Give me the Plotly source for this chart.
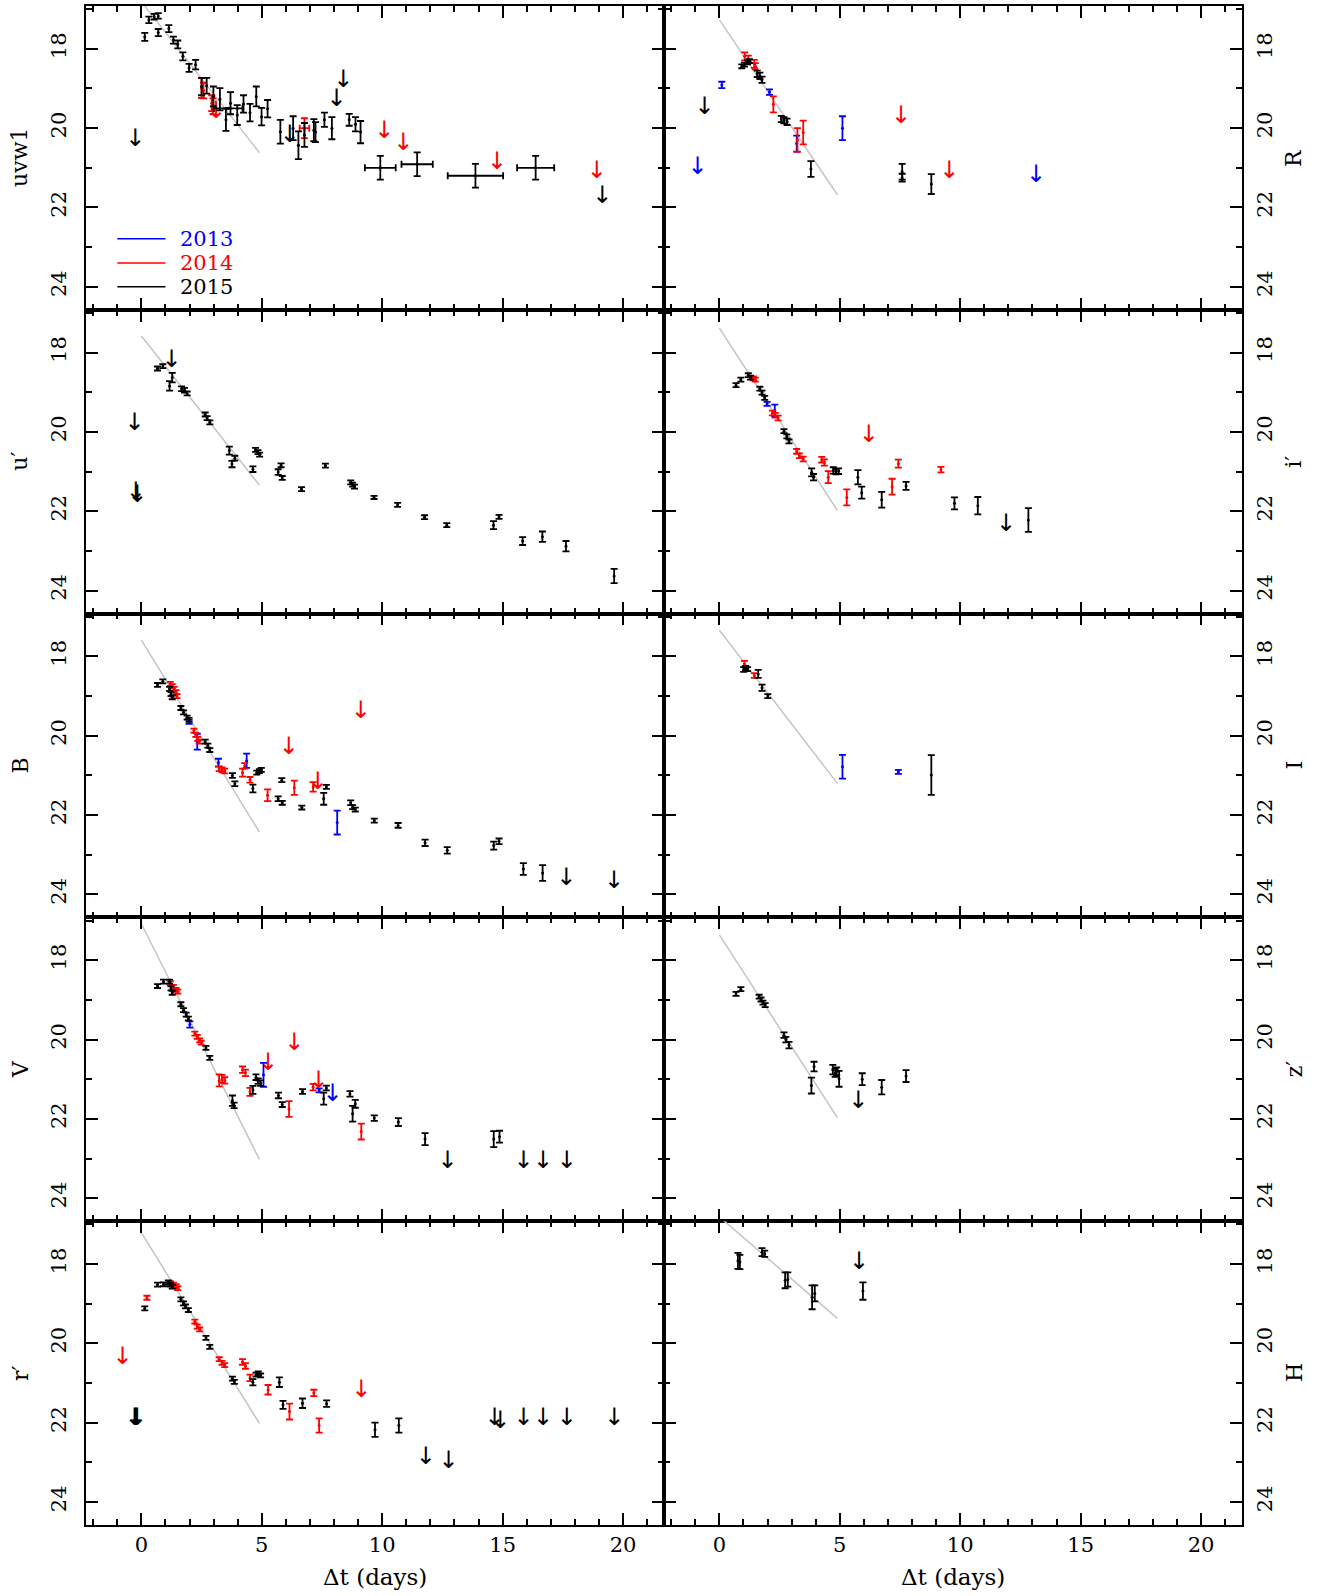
import plotly.graph_objects as go
from plotly.subplots import make_subplots

W, H = 1321, 1596
ML, MR, MT, MB = 86, 79, 6, 71

X_RANGE = [-2.3, 21.7]
Y_RANGE = [24.58, 16.92]
BANDS = [(4.9, 6.3), (17.9, 19.3)]
BAND_LINES = [5.6, 18.6]

YEARS = ["2013", "2014", "2015"]
YEAR_COLORS = {"2013": "#0000ff", "2014": "#ff0000", "2015": "#000000"}

# ---------------- data: (dt, mag, err[, xerr]) ; upper limits: (dt, mag)
uvw1_2015 = [(0.14, 17.70, 0.10), (0.31, 17.27, 0.08), (0.53, 17.19, 0.07), (0.70, 17.17, 0.07),
             (0.70, 17.59, 0.09), (1.14, 17.49, 0.09), (1.33, 17.78, 0.09), (1.51, 17.89, 0.10),
             (1.72, 18.19, 0.10), (1.98, 18.48, 0.10), (2.25, 18.40, 0.12), (2.50, 18.95, 0.22),
             (2.71, 18.93, 0.20), (2.99, 19.20, 0.25), (3.26, 19.27, 0.28), (3.51, 19.79, 0.28),
             (3.70, 19.37, 0.28), (3.98, 19.67, 0.25), (4.24, 19.39, 0.22), (4.51, 19.61, 0.22),
             (4.77, 19.20, 0.25), (4.99, 19.71, 0.22), (5.24, 19.51, 0.22), (5.77, 20.09, 0.30),
             (6.30, 20.00, 0.30), (6.52, 20.43, 0.35), (6.77, 20.17, 0.30), (7.16, 20.05, 0.28),
             (7.23, 20.10, 0.25), (7.60, 19.79, 0.18), (7.91, 20.00, 0.28), (8.63, 19.79, 0.15),
             (8.89, 19.90, 0.18), (9.10, 20.10, 0.28),
             (3.60, 19.50, 0.01, 0.60), (9.92, 21.00, 0.30, 0.64), (11.45, 20.91, 0.30, 0.65),
             (13.87, 21.20, 0.30, 1.15), (16.37, 21.00, 0.30, 0.77)]
uvw1_2015_ul = [(-0.25, 20.30), (6.16, 20.20), (8.10, 19.28), (8.38, 18.80), (19.14, 21.74)]
uvw1_2014 = [(2.50, 18.99, 0.25), (2.58, 19.05, 0.20), (2.92, 19.37, 0.20), (2.97, 19.45, 0.20),
             (6.77, 20.00, 0.25, 0.20)]
uvw1_2014_ul = [(3.10, 19.60), (10.09, 20.09), (10.87, 20.40), (14.77, 20.89), (18.91, 21.10)]

R_2013 = [(0.10, 18.91, 0.08), (2.08, 19.09, 0.07), (3.21, 20.39, 0.20), (5.11, 20.00, 0.30)]
R_2013_ul = [(-0.91, 21.00), (13.15, 21.20)]
R_2014 = [(1.05, 18.19, 0.10), (1.20, 18.25, 0.08), (1.45, 18.38, 0.10), (1.49, 18.44, 0.08),
          (2.24, 19.40, 0.20), (3.24, 20.30, 0.30), (3.48, 20.11, 0.30)]
R_2014_ul = [(7.54, 19.71), (9.55, 21.11)]
R_2015 = [(0.93, 18.44, 0.05), (1.04, 18.40, 0.05), (1.17, 18.34, 0.05), (1.25, 18.31, 0.05),
          (1.57, 18.63, 0.08), (1.68, 18.68, 0.08), (1.77, 18.78, 0.08), (2.57, 19.77, 0.08),
          (2.68, 19.80, 0.08), (2.81, 19.84, 0.08), (3.80, 21.03, 0.20), (7.59, 21.10, 0.20),
          (7.59, 21.25, 0.10), (8.80, 21.41, 0.25)]
R_2015_ul = [(-0.62, 19.50)]

u_2015 = [(0.67, 18.40, 0.05), (0.89, 18.34, 0.05), (1.17, 18.84, 0.12), (1.28, 18.63, 0.12),
          (1.67, 18.91, 0.06), (1.79, 18.95, 0.06), (1.90, 19.03, 0.05), (2.65, 19.56, 0.05),
          (2.73, 19.65, 0.05), (2.84, 19.76, 0.05), (3.65, 20.47, 0.10), (3.88, 20.66, 0.06),
          (3.76, 20.81, 0.08), (4.63, 20.94, 0.07), (4.74, 20.45, 0.05), (4.84, 20.51, 0.05),
          (4.91, 20.57, 0.05), (5.68, 21.01, 0.07), (5.80, 20.84, 0.05), (5.85, 21.16, 0.05),
          (6.65, 21.44, 0.05), (7.64, 20.85, 0.05), (8.69, 21.27, 0.05), (8.77, 21.33, 0.05),
          (8.85, 21.38, 0.05), (9.66, 21.65, 0.04), (10.64, 21.84, 0.05), (11.76, 22.15, 0.05),
          (12.68, 22.35, 0.05), (14.62, 22.35, 0.10), (14.85, 22.14, 0.05), (15.83, 22.75, 0.10),
          (16.65, 22.64, 0.13), (17.63, 22.88, 0.13), (19.63, 23.63, 0.18)]
u_2015_ul = [(1.25, 18.21), (-0.28, 19.81), (-0.23, 21.54), (-0.17, 21.62)]

i_2013 = [(1.98, 19.29, 0.05), (2.30, 19.46, 0.15)]
i_2014 = [(1.41, 18.65, 0.05), (1.49, 18.68, 0.05), (2.20, 19.52, 0.06), (2.32, 19.58, 0.06),
          (2.44, 19.65, 0.06), (3.21, 20.49, 0.06), (3.32, 20.60, 0.06), (3.48, 20.68, 0.06),
          (4.25, 20.70, 0.07), (4.36, 20.77, 0.08), (4.52, 21.14, 0.15), (5.29, 21.65, 0.20),
          (7.17, 21.38, 0.20), (7.43, 20.80, 0.10), (9.20, 20.95, 0.07)]
i_2014_ul = [(6.20, 20.09)]
i_2015 = [(0.69, 18.82, 0.05), (0.89, 18.68, 0.05), (1.20, 18.57, 0.05), (1.29, 18.63, 0.05),
          (1.68, 18.91, 0.05), (1.77, 19.01, 0.05), (1.88, 19.14, 0.05), (2.68, 19.98, 0.05),
          (2.80, 20.11, 0.05), (2.89, 20.24, 0.05), (3.83, 21.02, 0.10), (3.91, 21.14, 0.08),
          (4.73, 20.97, 0.08), (4.84, 21.00, 0.07), (4.95, 20.99, 0.07), (5.75, 21.14, 0.18),
          (5.91, 21.53, 0.15), (6.74, 21.71, 0.20), (7.75, 21.36, 0.10), (9.76, 21.80, 0.15),
          (10.73, 21.86, 0.22), (12.83, 22.22, 0.30)]
i_2015_ul = [(11.90, 22.35)]

B_2013 = [(1.98, 19.65, 0.05), (2.32, 20.15, 0.20), (3.20, 20.68, 0.10), (4.37, 20.63, 0.18),
          (8.13, 22.19, 0.30)]
B_2014 = [(1.20, 18.69, 0.05), (1.28, 18.75, 0.05), (1.36, 18.82, 0.05), (1.44, 18.90, 0.05),
          (1.48, 19.00, 0.05), (2.18, 19.87, 0.05), (2.26, 19.98, 0.05), (2.34, 20.08, 0.05),
          (2.40, 20.15, 0.05), (3.23, 20.83, 0.06), (3.35, 20.86, 0.06), (3.46, 20.89, 0.06),
          (4.20, 20.93, 0.10), (4.29, 20.76, 0.07), (4.51, 21.11, 0.07), (5.24, 21.50, 0.15),
          (6.35, 21.31, 0.18), (7.13, 21.29, 0.12)]
B_2014_ul = [(6.12, 20.32), (7.32, 21.20), (9.11, 19.41)]
B_2015 = [(0.67, 18.72, 0.05), (0.89, 18.63, 0.05), (1.17, 18.82, 0.05), (1.23, 18.95, 0.05),
          (1.28, 19.03, 0.05), (1.64, 19.30, 0.05), (1.75, 19.41, 0.05), (1.90, 19.54, 0.05),
          (1.98, 19.60, 0.05), (2.65, 20.15, 0.05), (2.76, 20.25, 0.05), (2.84, 20.36, 0.05),
          (3.78, 21.00, 0.06), (3.88, 21.21, 0.06), (4.63, 21.33, 0.10), (4.79, 20.93, 0.05),
          (4.90, 20.89, 0.05), (4.98, 20.86, 0.05), (5.68, 21.59, 0.06), (5.85, 21.69, 0.05),
          (5.83, 21.12, 0.05), (6.66, 21.81, 0.05), (7.57, 21.59, 0.15), (7.68, 21.29, 0.05),
          (8.69, 21.69, 0.06), (8.77, 21.80, 0.05), (8.88, 21.86, 0.05), (9.67, 22.14, 0.05),
          (10.66, 22.26, 0.06), (11.78, 22.70, 0.08), (12.70, 22.89, 0.08), (14.63, 22.77, 0.10),
          (14.85, 22.66, 0.07), (15.86, 23.36, 0.15), (16.66, 23.46, 0.20)]
B_2015_ul = [(17.64, 23.60), (19.63, 23.70)]

I_2013 = [(5.11, 20.78, 0.30), (7.43, 20.91, 0.05)]
I_2014 = [(1.04, 18.19, 0.08), (1.45, 18.48, 0.06)]
I_2015 = [(1.01, 18.33, 0.06), (1.09, 18.30, 0.06), (1.17, 18.32, 0.05), (1.61, 18.44, 0.10),
          (1.77, 18.79, 0.08), (2.01, 19.00, 0.05), (8.80, 20.99, 0.50)]

V_2013 = [(2.01, 19.62, 0.08), (5.07, 20.89, 0.30), (7.38, 21.28, 0.05)]
V_2013_ul = [(7.94, 21.40)]
V_2014 = [(1.20, 18.58, 0.05), (1.33, 18.67, 0.05), (1.44, 18.75, 0.05), (1.51, 18.79, 0.05),
          (2.22, 19.85, 0.05), (2.32, 19.93, 0.05), (2.42, 20.02, 0.05), (2.48, 20.08, 0.05),
          (3.23, 21.03, 0.15), (3.35, 20.99, 0.10), (3.46, 21.03, 0.08), (4.20, 20.76, 0.08),
          (4.32, 20.84, 0.08), (4.51, 21.32, 0.10), (6.13, 21.75, 0.20), (7.13, 21.20, 0.08),
          (9.13, 22.32, 0.20)]
V_2014_ul = [(5.26, 20.61), (6.35, 20.10), (7.36, 21.07)]
V_2015 = [(0.67, 18.65, 0.05), (0.92, 18.54, 0.05), (1.17, 18.54, 0.05), (1.23, 18.71, 0.05),
          (1.28, 18.82, 0.05), (1.64, 19.11, 0.05), (1.75, 19.26, 0.05), (1.86, 19.37, 0.05),
          (1.95, 19.47, 0.05), (2.68, 20.21, 0.05), (2.84, 20.46, 0.05), (3.78, 21.54, 0.13),
          (3.85, 21.66, 0.07), (4.63, 21.27, 0.10), (4.76, 20.95, 0.07), (4.85, 21.05, 0.07),
          (4.95, 21.10, 0.07), (5.69, 21.41, 0.07), (5.85, 21.64, 0.06), (6.69, 21.31, 0.06),
          (7.57, 21.49, 0.15), (7.68, 21.22, 0.06), (8.66, 21.37, 0.07), (8.77, 21.87, 0.20),
          (8.88, 21.62, 0.10), (9.67, 21.98, 0.07), (10.67, 22.08, 0.10), (11.78, 22.51, 0.15),
          (14.63, 22.51, 0.20), (14.87, 22.45, 0.15)]
V_2015_ul = [(12.71, 23.10), (15.87, 23.10), (16.68, 23.10), (17.66, 23.10)]

z_2015 = [(0.69, 18.85, 0.05), (0.89, 18.73, 0.05), (1.65, 18.92, 0.05), (1.73, 18.99, 0.05),
          (1.81, 19.07, 0.05), (1.90, 19.13, 0.05), (2.68, 19.89, 0.07), (2.76, 20.00, 0.07),
          (2.89, 20.14, 0.08), (3.82, 21.16, 0.20), (3.93, 20.68, 0.12), (4.71, 20.76, 0.12),
          (4.81, 20.84, 0.10), (4.87, 20.80, 0.10), (4.97, 20.99, 0.20), (5.93, 21.00, 0.15),
          (6.74, 21.20, 0.18), (7.75, 20.92, 0.15)]
z_2015_ul = [(5.77, 21.58)]

r_2014 = [(0.23, 18.85, 0.05), (1.20, 18.48, 0.05), (1.33, 18.52, 0.05), (1.44, 18.56, 0.05),
          (1.51, 18.61, 0.05), (2.22, 19.45, 0.05), (2.32, 19.58, 0.05), (2.42, 19.65, 0.05),
          (3.23, 20.40, 0.05), (3.35, 20.49, 0.05), (3.46, 20.55, 0.05), (4.20, 20.47, 0.07),
          (4.32, 20.57, 0.07), (4.51, 20.87, 0.08), (5.26, 21.17, 0.12), (6.15, 21.72, 0.20),
          (7.16, 21.25, 0.08), (7.38, 22.07, 0.18)]
r_2014_ul = [(-0.78, 20.38), (9.13, 21.19)]
r_2015 = [(0.14, 19.12, 0.05), (0.67, 18.52, 0.05), (0.92, 18.51, 0.05), (1.12, 18.46, 0.05),
          (1.20, 18.52, 0.05), (1.28, 18.57, 0.05), (1.64, 18.89, 0.05), (1.75, 18.99, 0.05),
          (1.83, 19.07, 0.05), (1.95, 19.16, 0.05), (2.68, 19.86, 0.05), (2.84, 20.09, 0.05),
          (3.78, 20.89, 0.05), (3.86, 20.97, 0.05), (4.63, 20.98, 0.08), (4.76, 20.79, 0.05),
          (4.85, 20.76, 0.05), (4.95, 20.81, 0.05), (5.73, 20.98, 0.12), (5.88, 21.55, 0.10),
          (6.69, 21.51, 0.12), (7.69, 21.52, 0.08), (9.70, 22.18, 0.18), (10.69, 22.07, 0.18)]
r_2015_ul = [(-0.28, 21.90), (-0.23, 21.90), (-0.18, 21.90), (11.81, 22.90), (12.75, 22.99),
             (14.66, 21.90), (14.90, 21.99), (15.87, 21.90), (16.68, 21.90), (17.66, 21.90),
             (19.64, 21.90)]

H_2015 = [(0.77, 17.92, 0.20), (0.85, 17.95, 0.18), (1.77, 17.70, 0.10), (1.88, 17.74, 0.08),
          (2.73, 18.41, 0.20), (2.84, 18.39, 0.18), (3.85, 18.84, 0.30), (3.96, 18.74, 0.20),
          (5.96, 18.68, 0.22)]
H_2015_ul = [(5.80, 17.98)]

# grey decline lines: mag at FIT_T[0] and FIT_T[1]
FIT_T = [0.0, 4.9]
FIT = {"uvw1": [16.81, 20.62], "R": [17.27, 21.68], "u′": [17.58, 21.34], "i′": [17.38, 21.98],
       "B": [17.59, 22.43], "I": [17.34, 21.20], "V": [17.08, 23.02], "z′": [17.36, 21.97],
       "r′": [17.21, 22.02], "H": [16.81, 19.37]}

PANELS = [
    ("uvw1", 1, 1, {"2014": (uvw1_2014, uvw1_2014_ul), "2015": (uvw1_2015, uvw1_2015_ul)}),
    ("R", 1, 2, {"2013": (R_2013, R_2013_ul), "2014": (R_2014, R_2014_ul), "2015": (R_2015, R_2015_ul)}),
    ("u′", 2, 1, {"2015": (u_2015, u_2015_ul)}),
    ("i′", 2, 2, {"2013": (i_2013, []), "2014": (i_2014, i_2014_ul), "2015": (i_2015, i_2015_ul)}),
    ("B", 3, 1, {"2013": (B_2013, []), "2014": (B_2014, B_2014_ul), "2015": (B_2015, B_2015_ul)}),
    ("I", 3, 2, {"2013": (I_2013, []), "2014": (I_2014, []), "2015": (I_2015, [])}),
    ("V", 4, 1, {"2013": (V_2013, V_2013_ul), "2014": (V_2014, V_2014_ul), "2015": (V_2015, V_2015_ul)}),
    ("z′", 4, 2, {"2015": (z_2015, z_2015_ul)}),
    ("r′", 5, 1, {"2014": (r_2014, r_2014_ul), "2015": (r_2015, r_2015_ul)}),
    ("H", 5, 2, {"2015": (H_2015, H_2015_ul)}),
]

FONT = "DejaVu Serif"
TICK_FONT = dict(family=FONT, size=21, color="black")

fig = make_subplots(rows=5, cols=2, horizontal_spacing=0, vertical_spacing=0)

for name, row, col, series in PANELS:
    for (b0, b1) in BANDS:
        fig.add_vrect(x0=b0, x1=b1, row=row, col=col, fillcolor="#cccccc", opacity=1,
                      line_width=0, layer="below")
    for bl in BAND_LINES:
        fig.add_vline(x=bl, row=row, col=col, line_color="#808080", line_width=1.5, layer="below")
    fig.add_trace(go.Scatter(x=FIT_T, y=FIT[name], mode="lines",
                             line=dict(color="#c4c4c4", width=1.5), hoverinfo="skip"),
                  row=row, col=col)
    for year in YEARS:
        if year not in series:
            continue
        pts, lims = series[year]
        c = YEAR_COLORS[year]
        plain = [p for p in pts if len(p) == 3]
        withx = [p for p in pts if len(p) == 4]
        if plain:
            fig.add_trace(go.Scatter(
                x=[p[0] for p in plain], y=[p[1] for p in plain], mode="markers",
                marker=dict(size=3, color=c),
                error_y=dict(type="data", array=[p[2] for p in plain], color=c,
                             thickness=1.8, width=3.5)), row=row, col=col)
        if withx:
            fig.add_trace(go.Scatter(
                x=[p[0] for p in withx], y=[p[1] for p in withx], mode="markers",
                marker=dict(size=3, color=c),
                error_y=dict(type="data", array=[p[2] for p in withx], color=c,
                             thickness=1.8, width=3.5),
                error_x=dict(type="data", array=[p[3] for p in withx], color=c,
                             thickness=1.8, width=3.5)), row=row, col=col)
        if lims:
            fig.add_trace(go.Scatter(
                x=[p[0] for p in lims], y=[p[1] for p in lims], mode="text",
                text=["↓"] * len(lims), textposition="middle center",
                textfont=dict(family="DejaVu Sans", size=24, color=c)),
                row=row, col=col)

    fig.update_xaxes(row=row, col=col, range=X_RANGE, showgrid=False, zeroline=False,
                     automargin=False,
                     showline=True, linecolor="black", linewidth=1.5, mirror="allticks",
                     ticks="inside", ticklen=12, tickwidth=1.5, tickcolor="black",
                     tick0=0, dtick=5, showticklabels=(row == 5), tickfont=TICK_FONT,
                     minor=dict(ticks="inside", ticklen=6, tickwidth=1.5, tickcolor="black",
                                dtick=1, showgrid=False))
    fig.update_yaxes(row=row, col=col, range=Y_RANGE, showgrid=False, zeroline=False,
                     automargin=False,
                     showline=True, linecolor="black", linewidth=1.5, mirror="allticks",
                     ticks="inside", ticklen=12, tickwidth=1.5, tickcolor="black",
                     tick0=0, dtick=2, tickangle=-90, tickfont=TICK_FONT,
                     ticklabelstandoff=(10 if col == 1 else 3),
                     side=("left" if col == 1 else "right"),
                     minor=dict(ticks="inside", ticklen=6, tickwidth=1.5, tickcolor="black",
                                dtick=1, showgrid=False))

plot_w = W - ML - MR
plot_h = H - MT - MB
for name, row, col, series in PANELS:
    yc = 1 - (row - 0.5) / 5
    fig.add_annotation(text=name, xref="paper", yref="paper",
                       x=(-66 / plot_w) if col == 1 else (1 + 52 / plot_w),
                       y=yc, xanchor="center", yanchor="middle", textangle=-90,
                       showarrow=False, font=dict(family=FONT, size=22, color="black"))
for cx in [0.25, 0.75]:
    fig.add_annotation(text="Δt (days)", xref="paper", yref="paper", x=cx, y=-52 / plot_h,
                       xanchor="center", yanchor="middle", showarrow=False,
                       font=dict(family=FONT, size=23, color="black"))

# legend in the uvw1 panel
LEG_X = [-1.0, 1.0]
LEG_Y = [22.79, 23.40, 24.00]
for year, ly in zip(YEARS, LEG_Y):
    c = YEAR_COLORS[year]
    fig.add_shape(type="line", xref="x", yref="y", x0=LEG_X[0], x1=LEG_X[1], y0=ly, y1=ly,
                  line=dict(color=c, width=1.5))
    fig.add_annotation(text=year, xref="x", yref="y", x=1.5, y=ly, xanchor="left",
                       yanchor="middle", showarrow=False,
                       font=dict(family=FONT, size=21, color=c))

fig.update_layout(width=W, height=H, margin=dict(l=ML, r=MR, t=MT, b=MB, autoexpand=False),
                  paper_bgcolor="white", plot_bgcolor="white", showlegend=False)

fig.write_html("out.html", config={"displayModeBar": False},
               post_script="document.body.style.margin='0';")
